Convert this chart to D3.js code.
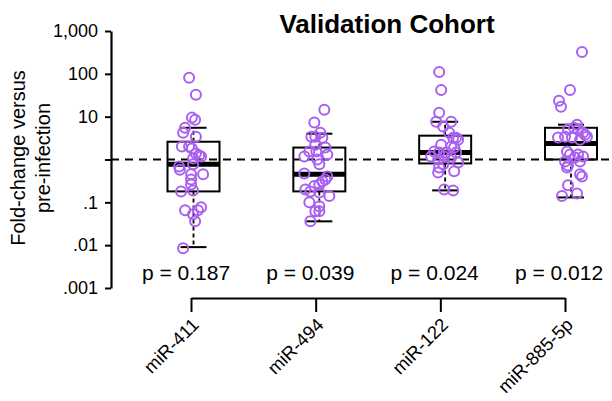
<!DOCTYPE html>
<html>
  <head>
    <style>
    body {
      font-family: "Liberation Sans", Arial, sans-serif;
      margin: 0;
      background: #fff;
    }
    </style>
  </head>
  <body>
    <script src="https://d3js.org/d3.v7.min.js"></script>
    <script>
    var width = 612, height = 401;

    // data
    var categories = ["miR-411", "miR-494", "miR-122", "miR-885-5p"];
    var pValues = ["p = 0.187", "p = 0.039", "p = 0.024", "p = 0.012"];

    var yTicks = [1000, 100, 10, 1, 0.1, 0.01, 0.001];
    var yTickLabels = ["1,000", "100", "10", "", ".1", ".01", ".001"];

    // box summaries per category
    var q1 = [0.18, 0.18, 0.81, 1.0];
    var median = [0.77, 0.45, 1.45, 2.36];
    var q3 = [2.6, 1.9, 3.6, 5.5];
    var whiskerLo = [0.009, 0.036, 0.19, 0.13];
    var whiskerHi = [5.5, 4.0, 7.6, 6.5];

    // individual fold-changes + horizontal jitter (fraction of half spread)
    var vals411 = [80.7, 32.5, 9.5, 8.5, 5.5, 4.2, 3.4, 2.0, 2.0, 1.8, 1.38, 1.24, 1.17, 1.05, 0.77,
                   0.69, 0.58, 0.45, 0.45, 0.34, 0.26, 0.18, 0.19, 0.065, 0.053, 0.065, 0.077, 0.036, 0.0085];
    var jit411 = [-0.22, 0.12, -0.08, 0.08, -0.42, -0.52, 0.12, -0.58, -0.22, -0.08, 0.12, 0.28, 0.38, -0.02, -0.02,
                  -0.72, -0.68, -0.12, 0.48, -0.12, -0.12, -0.62, -0.02, -0.42, -0.02, 0.22, 0.38, 0.08, -0.52];

    var vals494 = [14.5, 7.3, 3.4, 3.4, 4.2, 3.2, 2.2, 1.9, 1.53, 1.17, 1.53, 1.3, 1.0, 0.77, 0.47,
                   0.40, 0.34, 0.31, 0.26, 0.24, 0.20, 0.18, 0.17, 0.14, 0.10, 0.081, 0.062, 0.062, 0.036];
    var jit494 = [0.25, -0.25, -0.4, -0.2, 0.05, 0.15, -0.2, 0.3, -0.5, -0.75, -0.15, 0.4, -0.1, 0, -0.75,
                  0.4, 0.3, 0.15, 0, -0.25, -0.7, -0.45, 0, 0.5, -0.5, 0, -0.2, 0, -0.45];

    var vals122 = [111, 42, 12.4, 7.6, 7.6, 5.9, 4.2, 3.2, 3.2, 2.9, 2.2, 2.0, 1.9, 1.53, 1.45,
                   1.45, 1.45, 1.17, 1.17, 1.11, 0.85, 1.0, 0.77, 0.65, 0.50, 0.53, 0.20, 0.19];
    var jit122 = [-0.3, -0.2, -0.3, -0.45, 0.3, -0.1, 0.2, 0.4, 0.55, 0.65, -0.2, 0.3, 0.45, -0.55, -0.3,
                  0.05, 0.55, -0.7, -0.05, 0.3, 0.65, -0.35, -0.1, -0.3, -0.35, 0.45, -0.05, 0.4];

    var vals885 = [325, 42, 23.5, 17, 6.5, 5.0, 5.0, 4.2, 3.25, 3.4, 3.25, 3.4, 2.9, 1.53, 1.3,
                   1.3, 1.17, 1.11, 0.90, 0.90, 0.72, 0.65, 0.45, 0.40, 0.25, 0.14, 0.16, 5.5, 3.8];
    var jit885 = [0.55, -0.05, -0.6, -0.5, 0.3, -0.15, 0.35, 0.6, -0.65, -0.3, 0.05, 0.8, 0.45, -0.2, -0.05,
                  0.35, 0.6, 0.2, -0.3, 0.45, -0.15, -0.2, 0.45, 0.55, -0.15, -0.45, 0.3, 0.15, 0.7];

    var pointVals = [vals411, vals494, vals122, vals885];
    var pointJit = [jit411, jit494, jit122, jit885];

    var purple = "#a95ff0";

    var svg = d3.select("body").append("svg")
        .attr("width", width)
        .attr("height", height);

    var y = d3.scaleLog()
        .domain([0.001, 1000])
        .range([288, 31]);

    var xBox = d3.scalePoint()
        .domain(categories)
        .range([193.5, 571]);

    var xTick = d3.scalePoint()
        .domain(categories)
        .range([191, 565]);

    var xP = d3.scalePoint()
        .domain(categories)
        .range([186, 559]);

    var jitter = d3.scaleLinear()
        .domain([-1, 1])
        .range([-20, 20]);

    var boxW = 52, capW = 26;

    // title
    svg.append("text")
        .attr("x", 387)
        .attr("y", 33)
        .attr("text-anchor", "middle")
        .style("font-size", "26px")
        .style("font-weight", "bold")
        .text("Validation Cohort");

    // y axis title
    var yl = svg.append("text")
        .attr("transform", "translate(25,158) rotate(-90)")
        .attr("text-anchor", "middle")
        .style("font-size", "20px");
    yl.append("tspan").attr("x", 0).attr("y", 0).text("Fold-change versus");
    yl.append("tspan").attr("x", 0).attr("y", 25).text("pre-infection");

    // reference line at 1
    svg.append("line")
        .attr("x1", 111)
        .attr("x2", width)
        .attr("y1", y(1))
        .attr("y2", y(1))
        .attr("stroke", "#000")
        .attr("stroke-width", 2)
        .attr("stroke-dasharray", "8,6");

    // y axis
    var yAxis = d3.axisLeft(y)
        .tickValues(yTicks)
        .tickFormat(function(d, i) { return yTickLabels[i]; })
        .tickSize(6)
        .tickSizeOuter(0)
        .tickPadding(7);

    var gy = svg.append("g")
        .attr("transform", "translate(111,0)")
        .call(yAxis);
    gy.select(".domain").attr("stroke-width", 2.2);
    gy.selectAll(".tick line").attr("stroke-width", 2);
    gy.selectAll(".tick text")
        .style("font-size", "18px")
        .style("font-family", "Liberation Sans, Arial, sans-serif")
        .attr("fill", "#000");

    // boxes
    var boxes = svg.selectAll(".box")
        .data(categories)
      .enter().append("g")
        .attr("class", "box")
        .attr("transform", function(d) { return "translate(" + xBox(d) + ",0)"; });

    boxes.append("line")
        .attr("y1", function(d, i) { return y(q3[i]); })
        .attr("y2", function(d, i) { return y(whiskerHi[i]); })
        .attr("stroke", "#000")
        .attr("stroke-width", 1.8)
        .attr("stroke-dasharray", "4,3");

    boxes.append("line")
        .attr("y1", function(d, i) { return y(q1[i]); })
        .attr("y2", function(d, i) { return y(whiskerLo[i]); })
        .attr("stroke", "#000")
        .attr("stroke-width", 1.8)
        .attr("stroke-dasharray", "4,3");

    boxes.append("line")
        .attr("x1", -capW / 2)
        .attr("x2", capW / 2)
        .attr("y1", function(d, i) { return y(whiskerHi[i]); })
        .attr("y2", function(d, i) { return y(whiskerHi[i]); })
        .attr("stroke", "#000")
        .attr("stroke-width", 2);

    boxes.append("line")
        .attr("x1", -capW / 2)
        .attr("x2", capW / 2)
        .attr("y1", function(d, i) { return y(whiskerLo[i]); })
        .attr("y2", function(d, i) { return y(whiskerLo[i]); })
        .attr("stroke", "#000")
        .attr("stroke-width", 2);

    boxes.append("rect")
        .attr("x", -boxW / 2)
        .attr("width", boxW)
        .attr("y", function(d, i) { return y(q3[i]); })
        .attr("height", function(d, i) { return y(q1[i]) - y(q3[i]); })
        .attr("fill", "none")
        .attr("stroke", "#000")
        .attr("stroke-width", 2);

    boxes.append("line")
        .attr("x1", -boxW / 2)
        .attr("x2", boxW / 2)
        .attr("y1", function(d, i) { return y(median[i]); })
        .attr("y2", function(d, i) { return y(median[i]); })
        .attr("stroke", "#000")
        .attr("stroke-width", 5);

    // points
    boxes.each(function(d, i) {
      d3.select(this).selectAll("circle")
          .data(pointVals[i])
        .enter().append("circle")
          .attr("cx", function(v, j) { return jitter(pointJit[i][j]); })
          .attr("cy", function(v) { return y(v); })
          .attr("r", 5)
          .attr("fill", "none")
          .attr("stroke", purple)
          .attr("stroke-width", 2);
    });

    // p-values
    svg.selectAll(".pval")
        .data(pValues)
      .enter().append("text")
        .attr("class", "pval")
        .attr("x", function(d, i) { return xP(categories[i]); })
        .attr("y", 280)
        .attr("text-anchor", "middle")
        .style("font-size", "21px")
        .text(function(d) { return d; });

    // bracket x axis
    var xAxis = d3.axisBottom(xTick)
        .tickSize(14)
        .tickSizeOuter(0)
        .tickFormat("");

    var gx = svg.append("g")
        .attr("transform", "translate(0,298)")
        .call(xAxis);
    gx.select(".domain").attr("stroke-width", 2);
    gx.selectAll(".tick line").attr("stroke-width", 2);

    svg.selectAll(".xlab")
        .data(categories)
      .enter().append("text")
        .attr("class", "xlab")
        .attr("text-anchor", "end")
        .attr("transform", function(d) { return "translate(" + (xTick(d) + 9) + ",326) rotate(-45)"; })
        .style("font-size", "18.5px")
        .text(function(d) { return d; });
    </script>
  </body>
</html>
